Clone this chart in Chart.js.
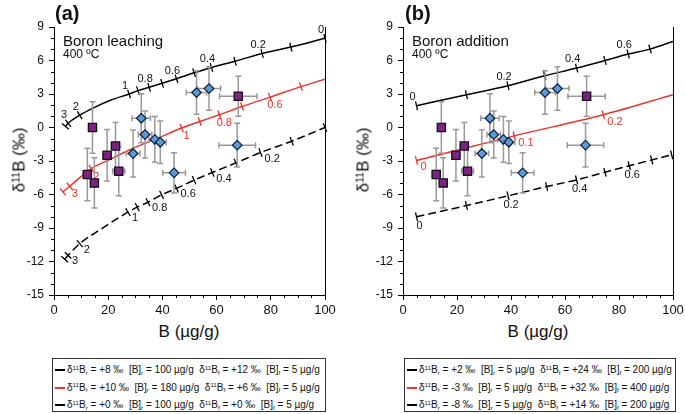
<!DOCTYPE html>
<html>
<head>
<meta charset="utf-8">
<script src="https://cdn.jsdelivr.net/npm/chart.js@4/dist/chart.umd.min.js"></script>
<style>
  body { margin: 0; background: #fff; font-family: "Liberation Sans", Arial, sans-serif; color: #111; }
  #wrap { position: relative; width: 685px; height: 414px; overflow: hidden; }
  canvas { position: absolute; top: 0; }
  .txt { position: absolute; white-space: nowrap; line-height: 1; }
  .panel { font-size: 20px; font-weight: bold; }
  .name { font-size: 15px; }
  .temp { font-size: 12px; }
  .xtitle { font-size: 17px; transform: translate(-50%, -50%); }
  .ytitle { font-size: 17px; transform: translate(-50%, -50%) rotate(-90deg); }
  .legend { position: absolute; top: 358px; height: 52px; border: 1px solid #333; font-size: 10px; }
  .row { position: absolute; left: 2px; white-space: nowrap; line-height: 1; transform: translateY(-50%); }
  .sw { display: inline-block; width: 10px; height: 0; border-top: 2px solid #000; vertical-align: middle; margin-right: 2px; }
  sup, sub { font-size: 0.62em; line-height: 0; position: relative; vertical-align: 0; }
  sup { top: -0.5em; }
  sub { top: 0.3em; }
</style>
</head>
<body>
<div id="wrap">
  <canvas id="chartA" width="342" height="320" style="left:0"></canvas>
  <canvas id="chartB" width="343" height="320" style="left:342px"></canvas>

  <div class="txt panel" style="left:55px;top:3px">(a)</div>
  <div class="txt panel" style="left:405px;top:3px">(b)</div>
  <div class="txt name" style="left:63px;top:33px">Boron leaching</div>
  <div class="txt temp" style="left:63px;top:48px">400 ºC</div>
  <div class="txt name" style="left:412px;top:33px">Boron addition</div>
  <div class="txt temp" style="left:412px;top:48px">400 ºC</div>

  <div class="txt ytitle" style="left:19px;top:160px">δ<sup>11</sup>B (‰)</div>
  <div class="txt ytitle" style="left:363px;top:160px">δ<sup>11</sup>B (‰)</div>
  <div class="txt xtitle" style="left:189px;top:331px">B (µg/g)</div>
  <div class="txt xtitle" style="left:538px;top:331px">B (µg/g)</div>

  <div class="legend" id="legA" style="left:52px;width:272px"></div>
  <div class="legend" id="legB" style="left:404px;width:270px"></div>
</div>
<script>
// axis ranges / tick labels
const yMin = -15, yMax = 9, yStep = 3;
const xMin = 0, xMax = 100, xStep = 20;

// measured samples, same in both panels
const squareB    = [14.2, 68.0, 22.7, 19.6, 23.9, 12.3, 14.9];
const squareD    = [0.0, 2.8, -1.65, -2.48, -3.91, -4.21, -4.96];
const squareBErr = [1.0, 6.9, 1.5, 1.5, 2.2, 1.5, 1.2];
const squareDErr = [2.3, 1.8, 2.1, 2.3, 2.2, 2.35, 2.25];

const diamondB    = [52.6, 57.2, 32.2, 33.6, 37.2, 39.2, 67.6, 29.2, 44.3];
const diamondD    = [3.13, 3.49, 0.83, -0.63, -1.07, -1.32, -1.58, -2.33, -4.06];
const diamondBErr = [3.8, 4.3, 3.4, 2.5, 2.2, 2.2, 6.75, 2.5, 4.2];
const diamondDErr = [1.95, 1.95, 2.2, 2.1, 2.05, 1.9, 1.95, 2.1, 1.8];

// (a) boron leaching model curves; marks: null = no tick, '' = tick only
const leachBlackB = [4.2, 5.2, 9.5, 14.4, 20.6, 27.7, 31.0, 35.1, 39.9, 45.2, 51.7, 58.1, 66.8, 76.8, 87.4, 100];
const leachBlackD = [0.1, 0.38, 1.1, 1.74, 2.42, 3.0, 3.3, 3.6, 3.96, 4.37, 4.9, 5.38, 5.93, 6.63, 7.2, 8.0];
const leachBlackM = ['', '3', '2', null, null, '1', '', '0.8', '', '0.6', '', '0.4', '', '0.2', '', '0'];

const leachRedB = [3.3, 5.8, 13.8, 20.0, 28.0, 39.1, 47.1, 53.8, 61.0, 69.4, 79.7, 91.1, 100];
const leachRedD = [-5.77, -5.26, -3.68, -2.93, -1.99, -0.87, -0.05, 0.54, 1.14, 1.88, 2.72, 3.66, 4.33];
const leachRedM = ['', '3', '2', null, null, null, '1', '', '0.8', '', '0.6', '', null];

const leachDashB = [3.95, 5.2, 9.5, 17.0, 27.3, 30.7, 34.7, 39.7, 45.2, 51.7, 58.4, 67.1, 76.2, 87.7, 100];
const leachDashD = [-11.8, -11.45, -10.4, -9.15, -7.58, -7.13, -6.69, -6.03, -5.45, -4.71, -4.03, -3.17, -2.24, -1.23, 0.0];
const leachDashM = ['', '3', '2', null, '1', '', '0.8', '', '0.6', '', '0.4', '', '0.2', '', ''];

// (b) boron addition model curves
const addBlackB = [5.0, 23.5, 38.9, 52.5, 64.3, 74.8, 83.4, 91.5, 100];
const addBlackD = [1.95, 2.93, 3.74, 4.63, 5.32, 6.0, 6.58, 7.02, 7.71];
const addBlackM = ['0', '', '0.2', '', '0.4', '', '0.6', '', null];

const addRedB = [5.0, 41.2, 74.2, 100];
const addRedD = [-2.95, -0.75, 1.14, 2.93];
const addRedM = ['0', '0.1', '0.2', null];

const addDashB = [5.0, 23.5, 38.9, 53.2, 64.3, 74.8, 83.8, 92.1, 99.5];
const addDashD = [-8.0, -6.99, -6.12, -5.29, -4.69, -4.0, -3.43, -2.9, -2.45];
const addDashM = ['0', '', '0.2', '', '0.4', '', '0.6', '', ''];

// legend rows
const legendA = [
  ['+8', '100', '+12', '5'],
  ['+10', '180', '+6', '5'],
  ['+0', '100', '+0', '5']
];
const legendB = [
  ['+2', '5', '+24', '200'],
  ['-3', '5', '+32', '400'],
  ['-8', '5', '+14', '200']
];

const RED = '#e8342c';

function pts(xs, ys) {
  return xs.map((x, i) => ({ x: x, y: ys[i] }));
}

function curve(xs, ys, marks, color, dash, lab) {
  return {
    data: pts(xs, ys),
    showLine: true,
    pointRadius: 0,
    borderColor: color,
    borderWidth: 1.5,
    borderDash: dash,
    cubicInterpolationMode: 'monotone',
    marks: marks,
    lab: lab
  };
}

const minorTicks = {
  id: 'minorTicks',
  afterDraw(chart) {
    const { ctx, chartArea: a, scales: { x, y } } = chart;
    ctx.save();
    ctx.strokeStyle = '#000';
    ctx.lineWidth = 1;
    ctx.beginPath();
    for (let v = yMin; v <= yMax; v += 1) {
      if (v % yStep === 0) continue;
      const py = Math.round(y.getPixelForValue(v)) + 0.5;
      ctx.moveTo(a.left, py);
      ctx.lineTo(a.left - 3, py);
    }
    for (let v = xMin; v <= xMax; v += 5) {
      if (v % xStep === 0) continue;
      const px = Math.round(x.getPixelForValue(v)) + 0.5;
      ctx.moveTo(px, a.bottom);
      ctx.lineTo(px, a.bottom + 3);
    }
    ctx.moveTo(Math.round(a.right) + 0.5, a.top);
    ctx.lineTo(Math.round(a.right) + 0.5, a.bottom);
    ctx.stroke();
    ctx.restore();
  }
};

const errorBars = {
  id: 'errorBars',
  beforeDatasetDraw(chart, args) {
    if (args.index !== 1) return; // all bars go under both marker sets
    const { ctx, scales: { x, y } } = chart;
    ctx.save();
    ctx.strokeStyle = '#999';
    ctx.lineWidth = 1.5;
    chart.data.datasets.forEach(ds => {
      if (!ds.errX) return;
      ds.data.forEach((p, i) => {
        const px = x.getPixelForValue(p.x), py = y.getPixelForValue(p.y);
        const x0 = x.getPixelForValue(p.x - ds.errX[i]), x1 = x.getPixelForValue(p.x + ds.errX[i]);
        const y0 = y.getPixelForValue(p.y - ds.errY[i]), y1 = y.getPixelForValue(p.y + ds.errY[i]);
        ctx.beginPath();
        ctx.moveTo(x0, py); ctx.lineTo(x1, py);
        ctx.moveTo(px, y0); ctx.lineTo(px, y1);
        ctx.moveTo(x0, py - 3); ctx.lineTo(x0, py + 3);
        ctx.moveTo(x1, py - 3); ctx.lineTo(x1, py + 3);
        ctx.moveTo(px - 3, y0); ctx.lineTo(px + 3, y0);
        ctx.moveTo(px - 3, y1); ctx.lineTo(px + 3, y1);
        ctx.stroke();
      });
    });
    ctx.restore();
  }
};

const curveMarks = {
  id: 'curveMarks',
  afterDatasetDraw(chart, args) {
    const ds = chart.data.datasets[args.index];
    if (!ds.marks) return;
    const els = args.meta.data;
    const ctx = chart.ctx;
    ctx.save();
    ctx.strokeStyle = ds.borderColor;
    ctx.fillStyle = ds.borderColor === RED ? RED : '#111';
    ctx.lineWidth = 1.3;
    ctx.font = '11px "Liberation Sans", Arial, sans-serif';
    ctx.textAlign = ds.lab.align;
    ctx.textBaseline = 'middle';
    els.forEach((el, i) => {
      const m = ds.marks[i];
      if (m === null) return;
      const a = els[Math.max(i - 1, 0)], b = els[Math.min(i + 1, els.length - 1)];
      let dx = b.x - a.x, dy = b.y - a.y;
      const len = Math.hypot(dx, dy) || 1;
      const nx = -dy / len * 4.5, ny = dx / len * 4.5;
      ctx.beginPath();
      ctx.moveTo(el.x - nx, el.y - ny);
      ctx.lineTo(el.x + nx, el.y + ny);
      ctx.stroke();
      if (m) ctx.fillText(m, el.x + ds.lab.dx, el.y + ds.lab.dy);
    });
    ctx.restore();
  }
};

function makePanel(id, yWidth, padRight, curves) {
  return new Chart(document.getElementById(id), {
    type: 'scatter',
    data: {
      datasets: [
        {
          data: pts(squareB, squareD),
          errX: squareBErr, errY: squareDErr,
          pointStyle: 'rect', pointRadius: 5.8,
          backgroundColor: '#7a2581', borderColor: '#1a0a1c', borderWidth: 1.3
        },
        {
          data: pts(diamondB, diamondD),
          errX: diamondBErr, errY: diamondDErr,
          pointStyle: 'rectRot', pointRadius: 4.8,
          backgroundColor: '#5a9ad6', borderColor: '#10203a', borderWidth: 1.2
        }
      ].concat(curves)
    },
    options: {
      responsive: false,
      animation: false,
      events: [],
      layout: { padding: { top: 27, right: padRight, left: 0, bottom: 0 } },
      plugins: { legend: { display: false }, tooltip: { enabled: false } },
      scales: {
        x: {
          min: xMin, max: xMax,
          ticks: { stepSize: xStep, color: '#111', padding: 3, font: { family: '"Liberation Sans", Arial', size: 13 } },
          grid: { drawOnChartArea: false, tickLength: 5, tickColor: '#000' },
          border: { color: '#000', width: 1 },
          afterFit(s) { s.height = 25; s.paddingLeft = 0; s.paddingRight = 0; }
        },
        y: {
          min: yMin, max: yMax,
          ticks: { stepSize: yStep, color: '#111', padding: 5, font: { family: '"Liberation Sans", Arial', size: 12 } },
          grid: { drawOnChartArea: false, tickLength: 5, tickColor: '#000' },
          border: { color: '#000', width: 1 },
          afterFit(s) { s.width = yWidth; s.paddingTop = 0; s.paddingBottom = 0; }
        }
      }
    },
    plugins: [minorTicks, errorBars, curveMarks]
  });
}

makePanel('chartA', 54, 17, [
  curve(leachBlackB, leachBlackD, leachBlackM, '#000', [], { dx: -4, dy: -8, align: 'center' }),
  curve(leachRedB, leachRedD, leachRedM, RED, [], { dx: 5, dy: 8, align: 'center' }),
  curve(leachDashB, leachDashD, leachDashM, '#000', [8, 4], { dx: 4, dy: 6, align: 'left' })
]);

makePanel('chartB', 61, 12, [
  curve(addBlackB, addBlackD, addBlackM, '#000', [], { dx: -4, dy: -9, align: 'center' }),
  curve(addRedB, addRedD, addRedM, RED, [], { dx: 4, dy: 7, align: 'left' }),
  curve(addDashB, addDashD, addDashM, '#000', [8, 4], { dx: 3, dy: 9, align: 'center' })
]);

function fillLegend(id, rows) {
  const box = document.getElementById(id);
  const swatches = [
    '<span class="sw"></span>',
    '<span class="sw" style="border-color:' + RED + '"></span>',
    '<span class="sw" style="border-top:2px dashed #000"></span>'
  ];
  rows.forEach((r, i) => {
    const d = document.createElement('div');
    d.className = 'row';
    d.style.top = (11 + i * 17.5) + 'px';
    d.innerHTML = swatches[i] +
      'δ<sup>11</sup>B<sub>r</sub> = ' + r[0] + ' ‰&nbsp; [B]<sub>r</sub> = ' + r[1] + ' µg/g&nbsp; ' +
      'δ<sup>11</sup>B<sub>f</sub> = ' + r[2] + ' ‰&nbsp; [B]<sub>f</sub> = ' + r[3] + ' µg/g';
    box.appendChild(d);
  });
}
fillLegend('legA', legendA);
fillLegend('legB', legendB);
</script>
</body>
</html>
